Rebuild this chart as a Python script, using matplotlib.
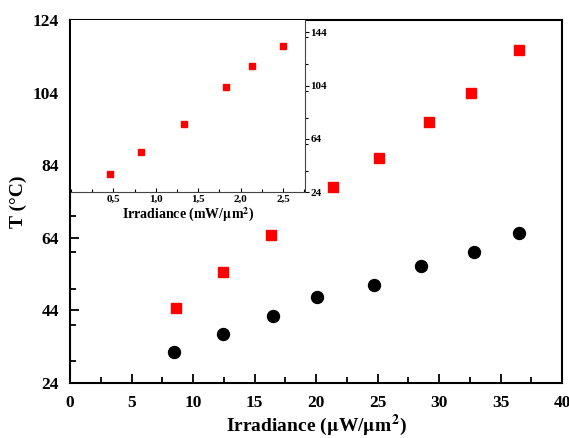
import matplotlib
matplotlib.use("Agg")
import matplotlib.pyplot as plt
from matplotlib.ticker import MultipleLocator

plt.rcParams['font.family'] = ['Liberation Serif', 'DejaVu Serif']
plt.rcParams['mathtext.fontset'] = 'stix'

# Main chart data
irr_circle = [8.46, 12.46, 16.5, 20.1, 24.7, 28.55, 32.8, 36.5]
temp_circle = [32.4, 37.5, 42.4, 47.6, 51.1, 56.1, 60.2, 65.2]
irr_square = [8.6, 12.46, 16.36, 21.4, 25.1, 29.2, 32.6, 36.5]
temp_square = [44.6, 54.7, 64.8, 77.9, 85.9, 96.0, 104.0, 115.7]

# Inset data
inset_irr = [0.46, 0.82, 1.33, 1.83, 2.14, 2.50]
inset_temp = [38, 54, 75, 103, 118.4, 133.5]

main_xticks = [0, 5, 10, 15, 20, 25, 30, 35, 40]
main_yticks = [24, 44, 64, 84, 104, 124]
inset_xticks = [0.5, 1.0, 1.5, 2.0, 2.5]
inset_xticklabels = ['0,5', '1,0', '1,5', '2,0', '2,5']
inset_yticks = [24, 64, 104, 144]

fig = plt.figure(figsize=(5.69, 4.38), dpi=100)
ax = fig.add_axes([0.123, 0.1256, 0.865, 0.829])
ax.plot(irr_circle, temp_circle, 'o', color='black', markersize=8.6, zorder=3)
ax.plot(irr_square, temp_square, 's', color='#ff0000', markersize=7.2, zorder=3)
ax.set_xlim(0, 40)
ax.set_ylim(24, 124)
ax.set_xticks(main_xticks)
ax.set_yticks(main_yticks)
ax.xaxis.set_minor_locator(MultipleLocator(2.5))
ax.yaxis.set_minor_locator(MultipleLocator(10))
ax.tick_params(which='both', direction='in', top=False, right=False, labelsize=12.5, width=1.3)
ax.tick_params(which='major', length=6.5)
ax.tick_params(which='minor', length=4)
ax.tick_params(axis='x', which='major', pad=9)
ax.tick_params(axis='y', which='major', pad=8)
for lbl in ax.get_xticklabels() + ax.get_yticklabels():
    lbl.set_fontweight('bold')
for s in ax.spines.values():
    s.set_linewidth(1.5)
ax.set_xlabel('Irradiance ($\\mathbf{\\mu}$W/$\\mathbf{\\mu}$m$^\\mathbf{2}$)', fontsize=14, fontweight='bold', labelpad=1)
ax.set_ylabel('T (°C)', fontsize=14, fontweight='bold', labelpad=4)

# Inset
ins = fig.add_axes([0.125, 0.561, 0.411, 0.393])
ins.set_facecolor('white')
ins.plot(inset_irr, inset_temp, 's', color='#ff0000', markersize=3.8)
ins.set_xlim(0, 2.76)
ins.set_ylim(24, 153)
ins.set_xticks(inset_xticks)
ins.set_xticklabels(inset_xticklabels)
ins.xaxis.set_minor_locator(MultipleLocator(0.25))
ins.yaxis.tick_right()
ins.set_yticks(inset_yticks)
ins.yaxis.set_minor_locator(MultipleLocator(20))
ins.tick_params(axis='x', which='both', direction='in', labelsize=8, pad=2, width=0.8)
ins.tick_params(axis='x', which='major', length=3)
ins.tick_params(axis='x', which='minor', length=2)
ins.tick_params(axis='y', which='both', direction='out', labelsize=8, pad=1, width=0.8, left=False, right=True)
ins.tick_params(axis='y', which='major', length=3)
ins.tick_params(axis='y', which='minor', length=2)
for lbl in ins.get_xticklabels() + ins.get_yticklabels():
    lbl.set_fontweight('bold')
for name, s in ins.spines.items():
    s.set_linewidth(0.8)
    s.set_color('#444444')
ins.spines['left'].set_visible(False)
ins.spines['top'].set_visible(False)
ins.set_xlabel('Irradiance (mW/$\\mathbf{\\mu}$m$^\\mathbf{2}$)', fontsize=10, fontweight='bold', labelpad=1)

fig.savefig('out.png', dpi=100)
